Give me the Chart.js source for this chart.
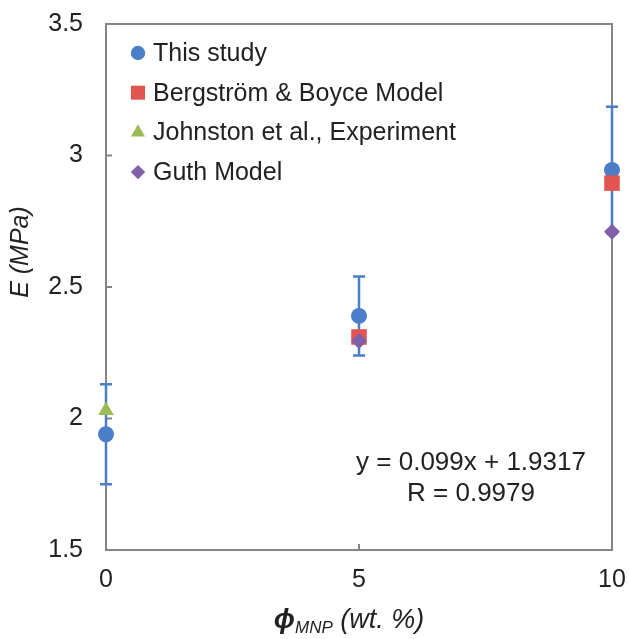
<!DOCTYPE html>
<html>
<head>
<meta charset="utf-8">
<script src="https://cdn.jsdelivr.net/npm/chart.js@4.4.0/dist/chart.umd.min.js"></script>
<style>
html, body { margin: 0; padding: 0; background: #fff; }
#wrap { width: 629px; height: 639px; }
</style>
</head>
<body>
<div id="wrap"><canvas id="c"></canvas></div>
<script>
// values
const loadings = [0, 5, 10];
const thisStudy = [1.94, 2.39, 2.945];
const thisStudyErr = [0.19, 0.15, 0.24];
const bergX = [5, 10];
const bergstrom = [2.31, 2.895];
const johnX = [0];
const johnston = [2.03];
const guthX = [5, 10];
const guth = [2.295, 2.71];
const xTicks = [0, 5, 10];
const yTicks = [1.5, 2, 2.5, 3, 3.5];
const seriesNames = ['This study', 'Bergström & Boyce Model', 'Johnston et al., Experiment', 'Guth Model'];
const fitText = ['y = 0.099x + 1.9317', 'R = 0.9979'];

const FONT = '"Liberation Sans", Arial, sans-serif';
const blue = '#4A7EC8', red = '#E2544F', green = '#9BBB59', purple = '#7E5FA8';

function pts(xs, ys) {
  return xs.map((v, i) => ({ x: v, y: ys[i] }));
}

// marker style per series (also used by the drawn legend)
const markers = [
  { pointStyle: 'circle', radius: 8, color: blue },
  { pointStyle: 'rect', radius: 11, color: red },
  { pointStyle: 'triangle', radius: 9, color: green },
  { pointStyle: 'rectRot', radius: 8, color: purple }
];

const sets = [pts(loadings, thisStudy), pts(bergX, bergstrom), pts(johnX, johnston), pts(guthX, guth)];

const datasets = sets.map((d, i) => ({
  label: seriesNames[i],
  data: d,
  pointStyle: markers[i].pointStyle,
  pointRadius: markers[i].radius,
  pointBackgroundColor: markers[i].color,
  pointBorderColor: markers[i].color,
  pointBorderWidth: 0,
  showLine: false,
  clip: false,
  order: 3 - i   // later series sit on top
}));

const extras = {
  id: 'extras',
  beforeDatasetsDraw(chart) {
    const { ctx, chartArea: a, scales: { x, y } } = chart;
    ctx.save();
    // plot frame
    ctx.strokeStyle = '#858585';
    ctx.lineWidth = 2;
    ctx.strokeRect(a.left, a.top, a.right - a.left, a.bottom - a.top);
    // inner ticks
    ctx.beginPath();
    yTicks.slice(1, -1).forEach(v => {
      const py = y.getPixelForValue(v);
      ctx.moveTo(a.left, py); ctx.lineTo(a.left + 6, py);
    });
    xTicks.slice(1, -1).forEach(v => {
      const px = x.getPixelForValue(v);
      ctx.moveTo(px, a.bottom); ctx.lineTo(px, a.bottom - 6);
    });
    ctx.stroke();
    // error bars for this study
    ctx.strokeStyle = blue;
    ctx.lineWidth = 2.5;
    loadings.forEach((v, i) => {
      const px = x.getPixelForValue(v);
      const top = y.getPixelForValue(thisStudy[i] + thisStudyErr[i]);
      const bot = y.getPixelForValue(thisStudy[i] - thisStudyErr[i]);
      ctx.beginPath();
      ctx.moveTo(px, top); ctx.lineTo(px, bot);
      ctx.moveTo(px - 6, top); ctx.lineTo(px + 6, top);
      ctx.moveTo(px - 6, bot); ctx.lineTo(px + 6, bot);
      ctx.stroke();
    });
    ctx.restore();
  },
  afterDraw(chart) {
    const { ctx, chartArea: a } = chart;
    ctx.save();
    // legend in the top-left corner of the plot
    ctx.font = '25px ' + FONT;
    ctx.textBaseline = 'middle';
    ctx.textAlign = 'left';
    seriesNames.forEach((name, i) => {
      const cy = a.top + 29 + i * 39.7;
      const m = markers[i];
      ctx.fillStyle = m.color;
      ctx.strokeStyle = m.color;
      Chart.helpers.drawPoint(ctx, { pointStyle: m.pointStyle, radius: m.radius * 0.9, rotation: 0, borderWidth: 0 }, a.left + 32, cy);
      ctx.fillStyle = '#222';
      ctx.fillText(name, a.left + 47, cy + 1);
    });
    // fit equation
    ctx.font = '26px ' + FONT;
    ctx.textAlign = 'center';
    ctx.fillText(fitText[0], 471, 463);
    ctx.fillText(fitText[1], 471, 494);

    // y title
    ctx.save();
    ctx.translate(21, 252);
    ctx.rotate(-Math.PI / 2);
    ctx.font = 'italic 25px ' + FONT;
    ctx.fillText('E (MPa)', 0, 0);
    ctx.restore();

    // x title with subscript
    const phi = '\u03D5', sub = 'MNP', rest = ' (wt. %)';
    const fPhi = 'bold italic 28px ' + FONT, fSub = 'italic 17px ' + FONT, fRest = 'italic 27px ' + FONT;
    ctx.textAlign = 'left';
    ctx.textBaseline = 'alphabetic';
    ctx.font = fPhi; const w1 = ctx.measureText(phi).width;
    ctx.font = fSub; const w2 = ctx.measureText(sub).width;
    ctx.font = fRest; const w3 = ctx.measureText(rest).width;
    let tx = 349 - (w1 + w2 + w3) / 2;
    const base = 628;
    ctx.font = fPhi; ctx.fillText(phi, tx, base); tx += w1;
    ctx.font = fSub; ctx.fillText(sub, tx, base + 5); tx += w2;
    ctx.font = fRest; ctx.fillText(rest, tx, base);
    ctx.restore();
  }
};

new Chart(document.getElementById('c'), {
  type: 'scatter',
  data: { datasets },
  options: {
    responsive: true,
    maintainAspectRatio: false,
    animation: false,
    layout: { padding: { top: 24, right: 17, left: 0, bottom: 0 } },
    plugins: { legend: { display: false }, tooltip: { enabled: false } },
    scales: {
      x: {
        type: 'linear', min: 0, max: 10,
        afterBuildTicks: s => { s.ticks = xTicks.map(v => ({ value: v })); },
        afterFit: s => { s.height = 89; s.paddingLeft = 0; s.paddingRight = 0; },
        grid: { display: false },
        border: { display: false },
        ticks: { font: { family: FONT, size: 25 }, color: '#222', padding: 7 }
      },
      y: {
        type: 'linear', min: 1.5, max: 3.5,
        afterBuildTicks: s => { s.ticks = yTicks.map(v => ({ value: v })); },
        afterFit: s => { s.width = 106; s.paddingTop = 0; s.paddingBottom = 0; },
        grid: { display: false },
        border: { display: false },
        ticks: { font: { family: FONT, size: 25 }, color: '#222', padding: 15, callback: v => String(v) }
      }
    }
  },
  plugins: [extras]
});
</script>
</body>
</html>
